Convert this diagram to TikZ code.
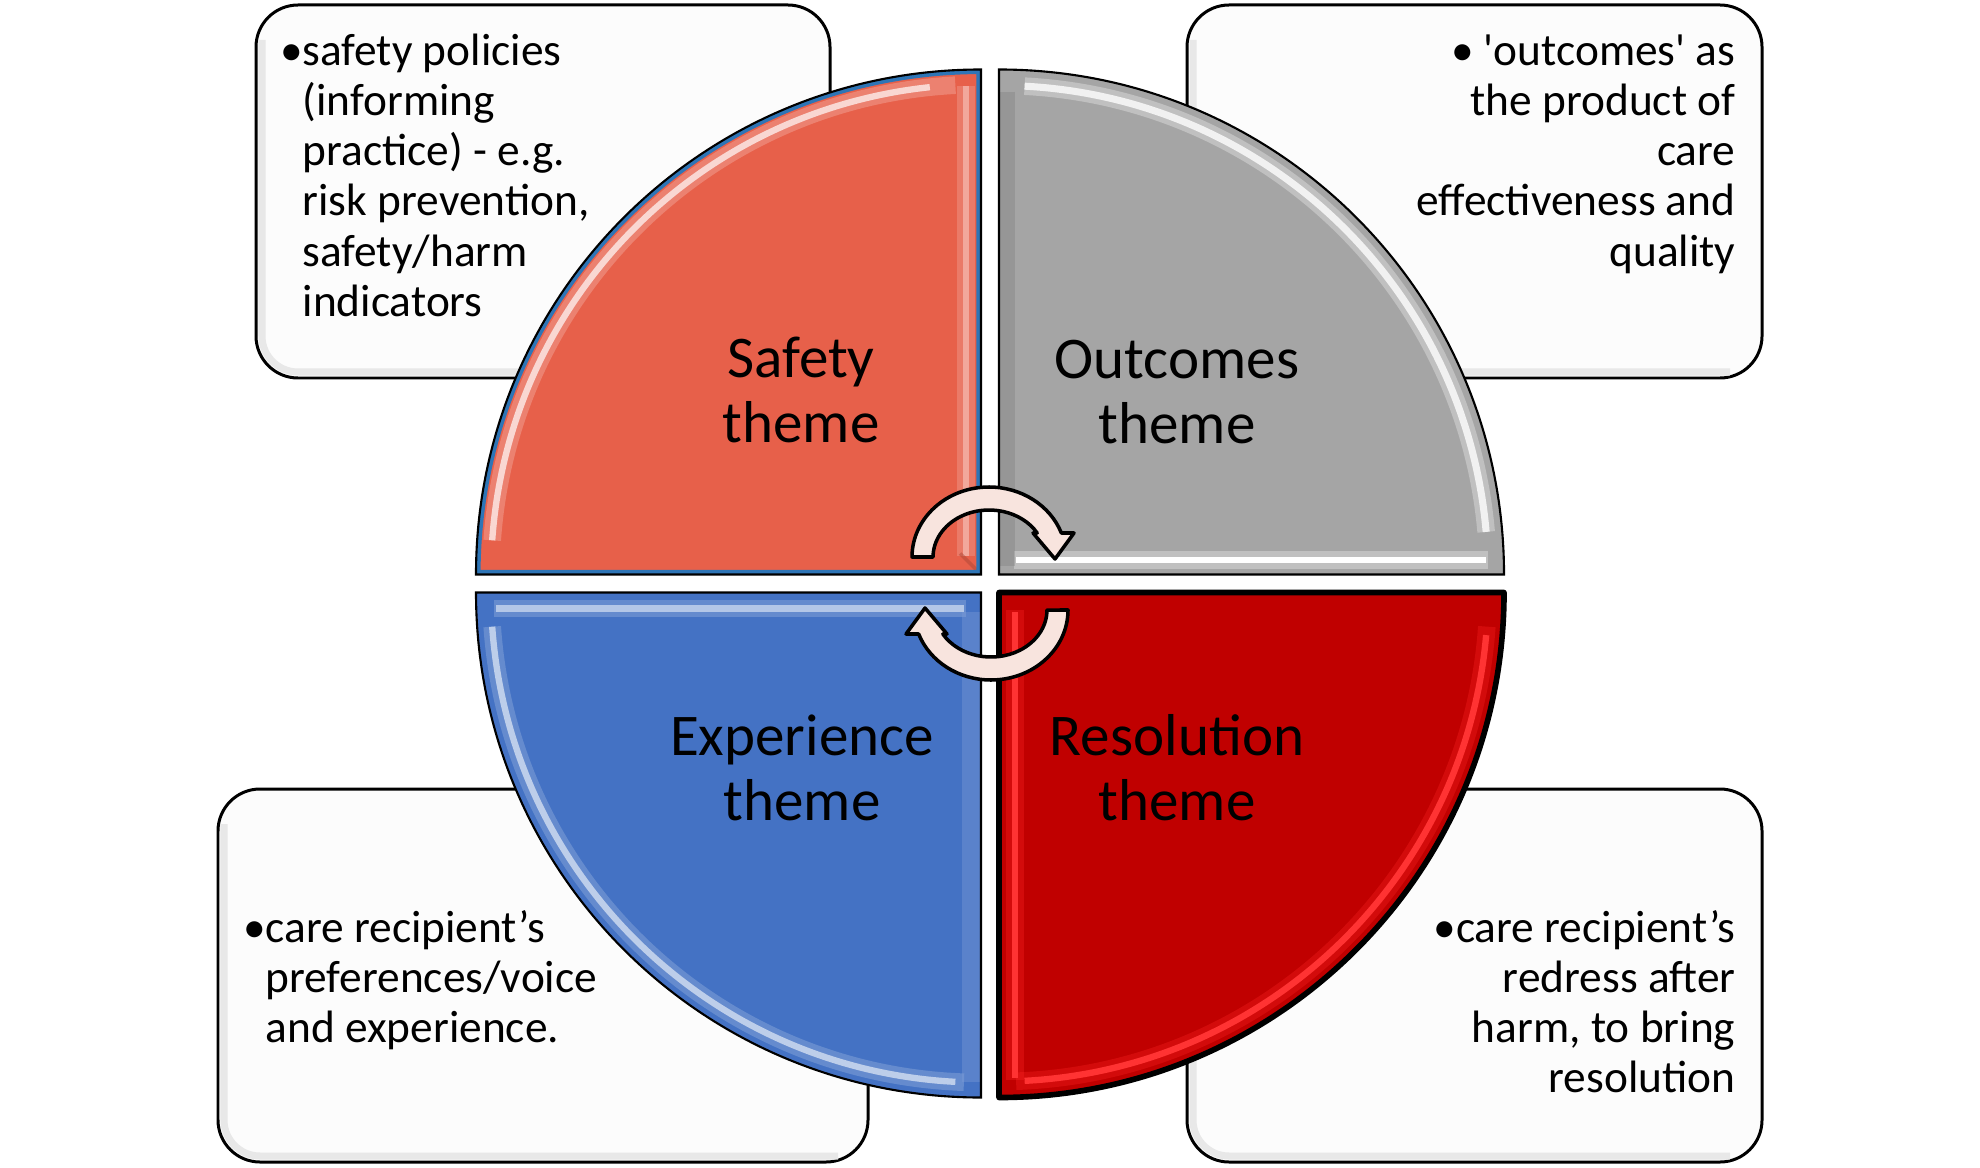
\documentclass[tikz,border=0pt]{standalone}
\usepackage{fontspec}
\setmainfont{Carlito}
\usetikzlibrary{calc}
\definecolor{safetyfill}{RGB}{231,96,74}
\definecolor{safetyblue}{RGB}{46,117,182}
\definecolor{outfill}{RGB}{165,165,165}
\definecolor{expfill}{RGB}{68,114,196}
\definecolor{resfill}{RGB}{192,0,0}
\definecolor{arrowfill}{RGB}{248,228,222}
\definecolor{boxfill}{RGB}{252,252,252}
\newcommand\boxfont{\fontsize{12.9pt}{14.25pt}\selectfont}
\newcommand\themefont{\fontsize{16.8pt}{18.6pt}\selectfont}
\newcommand\bstrut{\rule{0pt}{12pt}}
\newcommand\tstrut{\rule{0pt}{16pt}}
\def\safetypath{(981,-574.5) -- (476,-574.5) arc[start angle=180,end angle=90,radius=505] -- cycle}
\def\outpath{(999,-574.5) -- (999,-69.5) arc[start angle=90,end angle=0,radius=505] -- cycle}
\def\exppath{(981,-592.5) -- (981,-1097.5) arc[start angle=270,end angle=180,radius=505] -- cycle}
\def\respath{(999,-592.5) -- (1504,-592.5) arc[start angle=0,end angle=-90,radius=505] -- cycle}
\def\arrowpath{(912,-557) arc[start angle=180,end angle=20.05,x radius=77,y radius=70] -- (1074,-533) -- (1055,-559) -- (1033,-533) -- (1037.2,-533) arc[start angle=30.7,end angle=180,x radius=56,y radius=47] -- cycle}
\tikzset{
  infobox/.style={draw=black, line width=0.85pt, fill=boxfill, rounded corners=0.42cm},
  boxshade/.style={draw=gray!18, line width=2pt, rounded corners=0.36cm},
  boxtext/.style={inner sep=0pt, font=\boxfont, text=black},
  themetext/.style={inner sep=0pt, font=\themefont, align=center, anchor=north, text=black},
  hl/.style={line width=1.5pt, line cap=butt},
  halo/.style={line width=5pt, line cap=butt, opacity=0.3},
  cyclearrow/.style={fill=arrowfill, draw=black, line width=1pt, line join=round}
}
\begin{document}
\begin{tikzpicture}[x=0.01cm, y=0.01cm]
\useasboundingbox (0,0) rectangle (1980,-1167);
% side boxes
\path[infobox] (256,-5) rectangle (830,-378);
\path[infobox] (1187,-5) rectangle (1762,-378);
\path[infobox] (218,-789) rectangle (868,-1162);
\path[infobox] (1187,-789) rectangle (1762,-1162);
\draw[boxshade] (262,-40) -- (262,-372) -- (800,-372);
\draw[boxshade] (1193,-40) -- (1193,-372) -- (1730,-372);
\draw[boxshade] (224,-824) -- (224,-1156) -- (838,-1156);
\draw[boxshade] (1193,-824) -- (1193,-1156) -- (1730,-1156);
% box texts
\node[boxtext, align=left, anchor=north west] (tlText) at (302,-22.7)
  {\bstrut\llap{•}safety policies\\(informing\\practice) - e.g.\\risk prevention,\\safety/harm\\indicators};
\node[boxtext, align=right, anchor=north east] (trText) at (1736,-22.7)
  {\bstrut• \textquotesingle outcomes\textquotesingle{} as\\the product of\\care\\effectiveness and\\quality};
\node[boxtext, align=left, anchor=north west] (blText) at (265,-899.7)
  {\bstrut\llap{•}care recipient’s\\preferences/voice\\and experience.};
\node[boxtext, align=right, anchor=north east] (brText) at (1736,-899.7)
  {\bstrut•care recipient’s\\redress after\\harm, to bring\\resolution};
% Safety quadrant
\fill[safetyfill] \safetypath;
\begin{scope}
  \clip \safetypath;
  \draw[halo, safetyfill!45!white] (966,-556) -- (966,-86);
  \draw[halo, safetyfill!30!white] ($(981,-574.5)+(176:490)$) arc[start angle=176,end angle=93,radius=490];
  \draw[hl, safetyfill!55!white] (966,-556) -- (966,-86);
  \draw[hl, safetyfill!25!white, line width=1.8pt] ($(981,-574.5)+(176:490)$) arc[start angle=176,end angle=96,radius=490];
  \draw[safetyfill!75!black, line width=1pt, opacity=0.5] (981,-574.5) -- (960,-553.5);
  \draw[safetyblue, line width=2.6pt] \safetypath;
\end{scope}
\draw[black, line width=0.6pt] \safetypath;
% Outcomes quadrant
\fill[outfill] \outpath;
\begin{scope}
  \clip \outpath;
  \draw[halo, white] (1014,-560) -- (1488,-560);
  \draw[halo, white] ($(999,-574.5)+(87:489)$) arc[start angle=87,end angle=5,radius=489];
  \draw[hl, white, line width=1.8pt] (1016,-560) -- (1486,-560);
  \draw[hl, white!85!outfill, line width=2pt] ($(999,-574.5)+(87:489)$) arc[start angle=87,end angle=5,radius=489];
  \draw[halo, outfill!75!black, opacity=0.35] (1006,-92) -- (1006,-566);
\end{scope}
\draw[black, line width=0.6pt] \outpath;
% Experience quadrant
\fill[expfill] \exppath;
\begin{scope}
  \clip \exppath;
  \draw[halo, expfill!40!white] (494,-608.5) -- (966,-608.5);
  \draw[halo, expfill!40!white] ($(981,-592.5)+(184:490)$) arc[start angle=184,end angle=268,radius=490];
  \draw[hl, expfill!40!white, line width=1.8pt] (496,-608.5) -- (964,-608.5);
  \draw[hl, expfill!35!white, line width=1.8pt] ($(981,-592.5)+(184:490)$) arc[start angle=184,end angle=267,radius=490];
  \draw[halo, expfill!70!white, opacity=0.4] (971,-612) -- (971,-1082);
\end{scope}
\draw[black, line width=0.6pt] \exppath;
% Resolution quadrant
\fill[resfill] \respath;
\begin{scope}
  \clip \respath;
  \draw[halo, red!85!white] (1015,-610) -- (1015,-1080);
  \draw[halo, red!85!white] ($(999,-592.5)+(356:489)$) arc[start angle=356,end angle=272,radius=489];
  \draw[hl, red!80!white, line width=1.8pt] (1015,-612) -- (1015,-1078);
  \draw[hl, red!80!white, line width=1.8pt] ($(999,-592.5)+(355:489)$) arc[start angle=355,end angle=273,radius=489];
\end{scope}
\draw[black, line width=1.6pt, line join=round] \respath;
% theme labels
\node[themetext] (safetyLabel) at (801,-320.6) {\tstrut Safety\\theme};
\node[themetext] (outcomesLabel) at (1177,-321.6) {\tstrut Outcomes\\theme};
\node[themetext] (experienceLabel) at (802,-698.6) {\tstrut Experience\\theme};
\node[themetext] (resolutionLabel) at (1177,-698.6) {\tstrut Resolution\\theme};
% circular arrows
\draw[cyclearrow] \arrowpath;
\begin{scope}[rotate around={180:(990,-583.5)}]
  \draw[cyclearrow] \arrowpath;
\end{scope}
\end{tikzpicture}
\end{document}
